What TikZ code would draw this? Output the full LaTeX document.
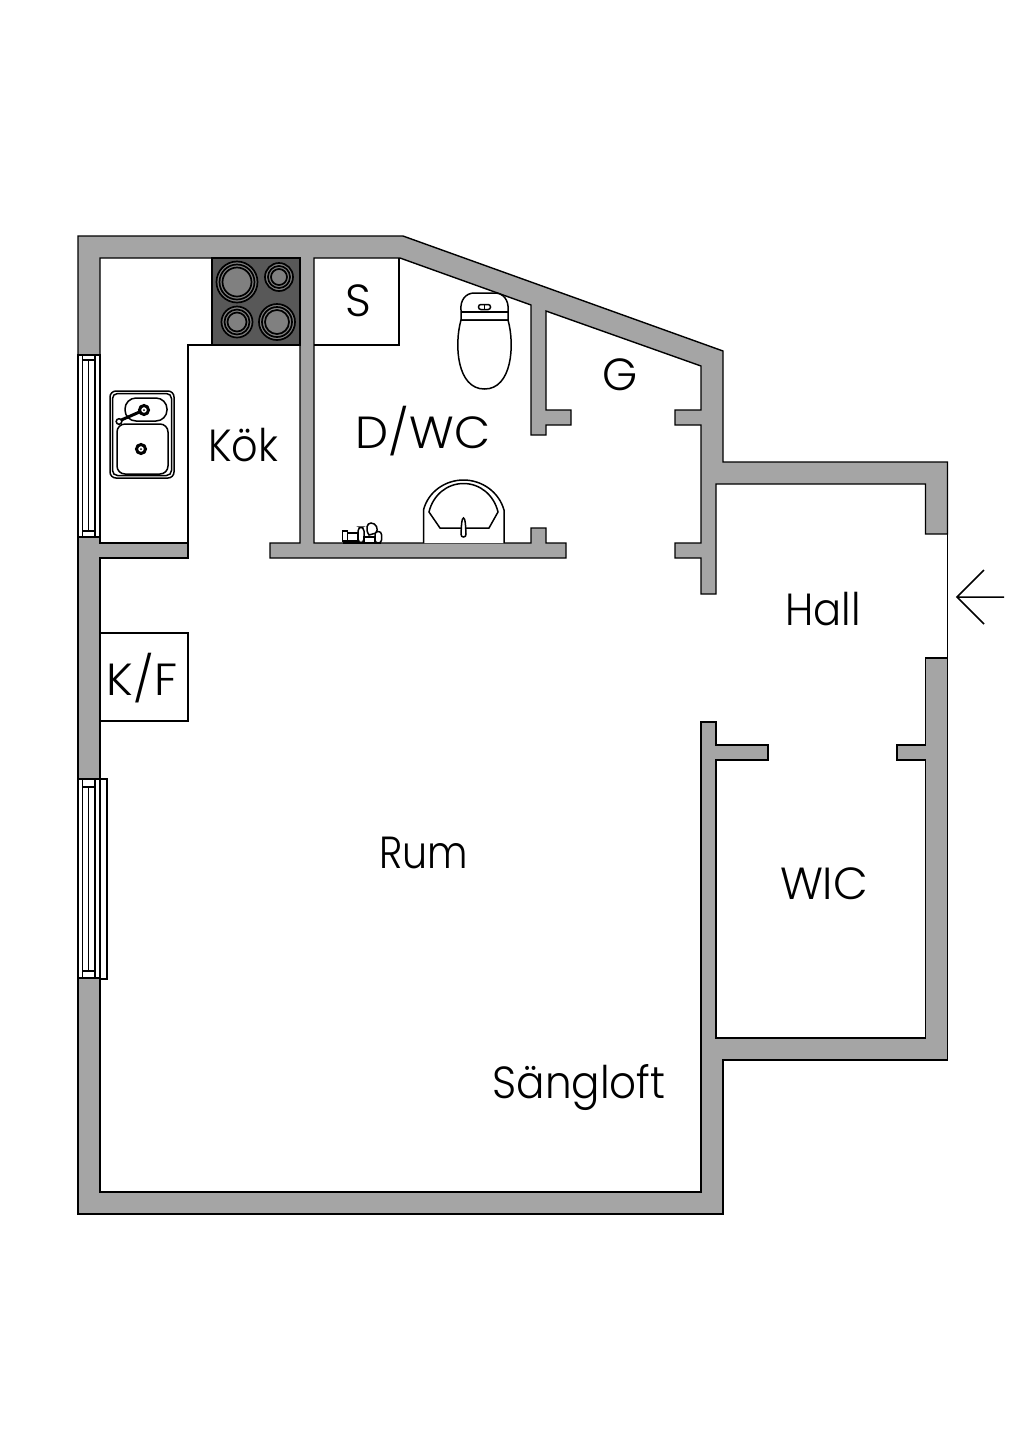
\documentclass[tikz,border=0pt]{standalone}
\usepackage{fontspec}
\usepackage{graphicx}
\setmainfont{Poppins}[UprightFont=* Light]
\tikzset{
  wallfill/.style={fill=wallgray,draw=black,line width=0.7pt,line join=miter},
  thin line/.style={draw=black,line width=0.7pt},
  fixture/.style={draw=black,line width=0.75pt,fill=white},
  room/.style={font=\fontsize{22.5}{27}\selectfont,inner sep=0pt,text=black},
  ring/.style={draw=black,line width=0.85pt},
}
\definecolor{wallgray}{HTML}{A5A5A5}
\definecolor{hob}{HTML}{585858}
\definecolor{burner}{HTML}{808080}
\newcommand{\hobplate}[3]{%
  \fill[burner] (#1,#2) circle[radius=#3];
  \draw[ring] (#1,#2) circle[radius=#3];
  \draw[ring] (#1,#2) circle[radius=#3-3];
  \draw[ring] (#1,#2) circle[radius=#3-6];
}
\begin{document}
\begin{tikzpicture}[x=0.5pt,y=-0.5pt]
\useasboundingbox[fill=white] (0,0) rectangle (1024,1448);
% walls
\path[wallfill] (78,355) -- (78,236) -- (403,236) -- (723,351) -- (723,462) -- (947.5,462) -- (947.5,534) -- (925.5,534) -- (925.5,484) -- (716,484) -- (716,594) -- (701,594) -- (701,558) -- (675,558) -- (675,543) -- (701,543) -- (701,425) -- (675,425) -- (675,410) -- (701,410) -- (701,366) -- (546,311) -- (546,410) -- (571,410) -- (571,425) -- (546,425) -- (546,435) -- (531,435) -- (531,305) -- (400,258) -- (314,258) -- (314,543) -- (531,543) -- (531,528) -- (546,528) -- (546,543) -- (566,543) -- (566,558) -- (270,558) -- (270,543) -- (300,543) -- (300,258) -- (100,258) -- (100,355) -- cycle;
\path[wallfill] (78,537) -- (100,537) -- (100,543) -- (188,543) -- (188,558) -- (100,558) -- (100,779) -- (78,779) -- cycle;
\path[wallfill] (78,978) -- (100,978) -- (100,1192) -- (701,1192) -- (701,722) -- (716,722) -- (716,745) -- (768,745) -- (768,760) -- (716,760) -- (716,1038) -- (925.5,1038) -- (925.5,760) -- (897,760) -- (897,745) -- (925.5,745) -- (925.5,658) -- (947.5,658) -- (947.5,1060) -- (723,1060) -- (723,1214) -- (78,1214) -- cycle;
% entrance
\draw[black,line width=0.5pt] (947.5,534) -- (947.5,658);
\draw[black,line width=0.75pt] (984,570) -- (957,597) -- (984,624) (957,597) -- (1004,597);
% kitchen counter
\draw[thin line] (212,345) -- (188,345) -- (188,543);
\filldraw[fill=hob,draw=black,line width=0.7pt] (212,258) rectangle (300,345);
\hobplate{237}{282}{20.5}
\hobplate{279}{277}{14}
\hobplate{237}{322}{15.5}
\hobplate{277}{322}{18}
% windows
\draw[thin line] (78,355) rectangle (100,537);
\draw[thin line] (82.5,355) rectangle (95,537);
\draw[thin line] (82.5,360) -- (95,360) (82.5,531) -- (95,531) (88.5,360) -- (88.5,531);
\draw[thin line] (78,779) rectangle (100,978);
\draw[thin line] (82.5,779) rectangle (95,978);
\draw[thin line] (82.5,787) -- (95,787) (82.5,971) -- (95,971) (88.5,787) -- (88.5,971);
\draw[thin line] (100,779) -- (107,779) -- (107,979) -- (100,979);
% kitchen sink
\draw[fixture,rounded corners=3pt] (110,391) rectangle (174,478);
\draw[fixture,rounded corners=2.5pt] (112.5,393.5) rectangle (171.5,475.5);
\draw[fixture,rounded corners=5.5pt] (125,398) rectangle (167,421);
\draw[fixture,rounded corners=4pt] (117,424) rectangle (168,474);
\draw[black,line width=1.5pt] (141,449) circle[radius=4.5];
\fill[black] (141,449) circle[radius=1];
\draw[black,line width=1.5pt] (119,421) -- (144,410);
\draw[black,line width=1.5pt,fill=white] (144,410) circle[radius=4.5];
\fill[black] (144,410) circle[radius=1];
\draw[fixture] (119,421.5) circle[radius=2.8];
% toilet
\draw[fixture] (461,320) -- (461,310) .. controls (460,300) and (466,293) .. (474,293) -- (495,293) .. controls (503,293) and (509,300) .. (508,310) -- (508,320) -- cycle;
\draw[thin line] (461,312) -- (508,312);
\draw[fixture] (461,320) .. controls (454,345) and (457,389) .. (484.5,389) .. controls (512,389) and (515,345) .. (508,320) -- cycle;
\draw[fixture,rounded corners=1.2pt] (478.5,304.5) rectangle (490.5,309.5);
\draw[black,line width=0.5pt] (484.5,304.5) -- (484.5,309.5);
% washbasin
\draw[fixture] (423.5,543) -- (423.5,510) .. controls (428,492) and (445,480) .. (463.5,480) .. controls (482,480) and (499,492) .. (504,510) -- (504,543);
\draw[fixture] (440,528) -- (429,512) .. controls (433,495) and (447,483.5) .. (463.5,483.5) .. controls (480,483.5) and (494,495) .. (498,512) -- (489,528) -- cycle;
\draw[fixture] (461,534) .. controls (461.5,526) and (461.5,518) .. (463.5,518) .. controls (465.5,518) and (465.5,526) .. (466,534) .. controls (466.5,538) and (460.5,538) .. (461,534) -- cycle;
% toiletries
\draw[fixture] (342.5,531) rectangle (347.5,541);
\draw[fixture] (347.5,533) rectangle (358,541);
\draw[fixture,rounded corners=2pt] (358,527) rectangle (364,543);
\draw[fixture] (364,537) rectangle (375,543);
\draw[fixture] (369,535) .. controls (365,529) and (367,523) .. (371,523) .. controls (376,523) and (379,529) .. (376,533) -- cycle;
\draw[fixture,rounded corners=1.5pt] (375,531.5) rectangle (381.5,543);
\draw[black,line width=1pt] (343,542.5) -- (381,542.5);
% white boxes
\draw[thin line] (314,345) -- (399,345) -- (399,258);
\draw[thin line,fill=white] (100,633) rectangle (188,721);
% labels
\node[room] (kok) at (243,445) {\scalebox{.92}[1]{Kök}};
\node[room] (s) at (358,301) {S};
\node[room] (dwc) at (423,431) {\scalebox{1.04}[1]{D/WC}};
\node[room] (g) at (620,375) {G};
\node[room] (hall) at (823,609) {\scalebox{.925}[1]{Hall}};
\node[room] (kf) at (142,678) {\scalebox{1.04}[1]{K/F}};
\node[room] (rum) at (424,853) {\scalebox{.88}[1]{Rum}};
\node[room] (wic) at (824,884) {WIC};
\node[room] (sang) at (579,1087) {\scalebox{.935}[1]{Sängloft}};
\end{tikzpicture}
\end{document}
